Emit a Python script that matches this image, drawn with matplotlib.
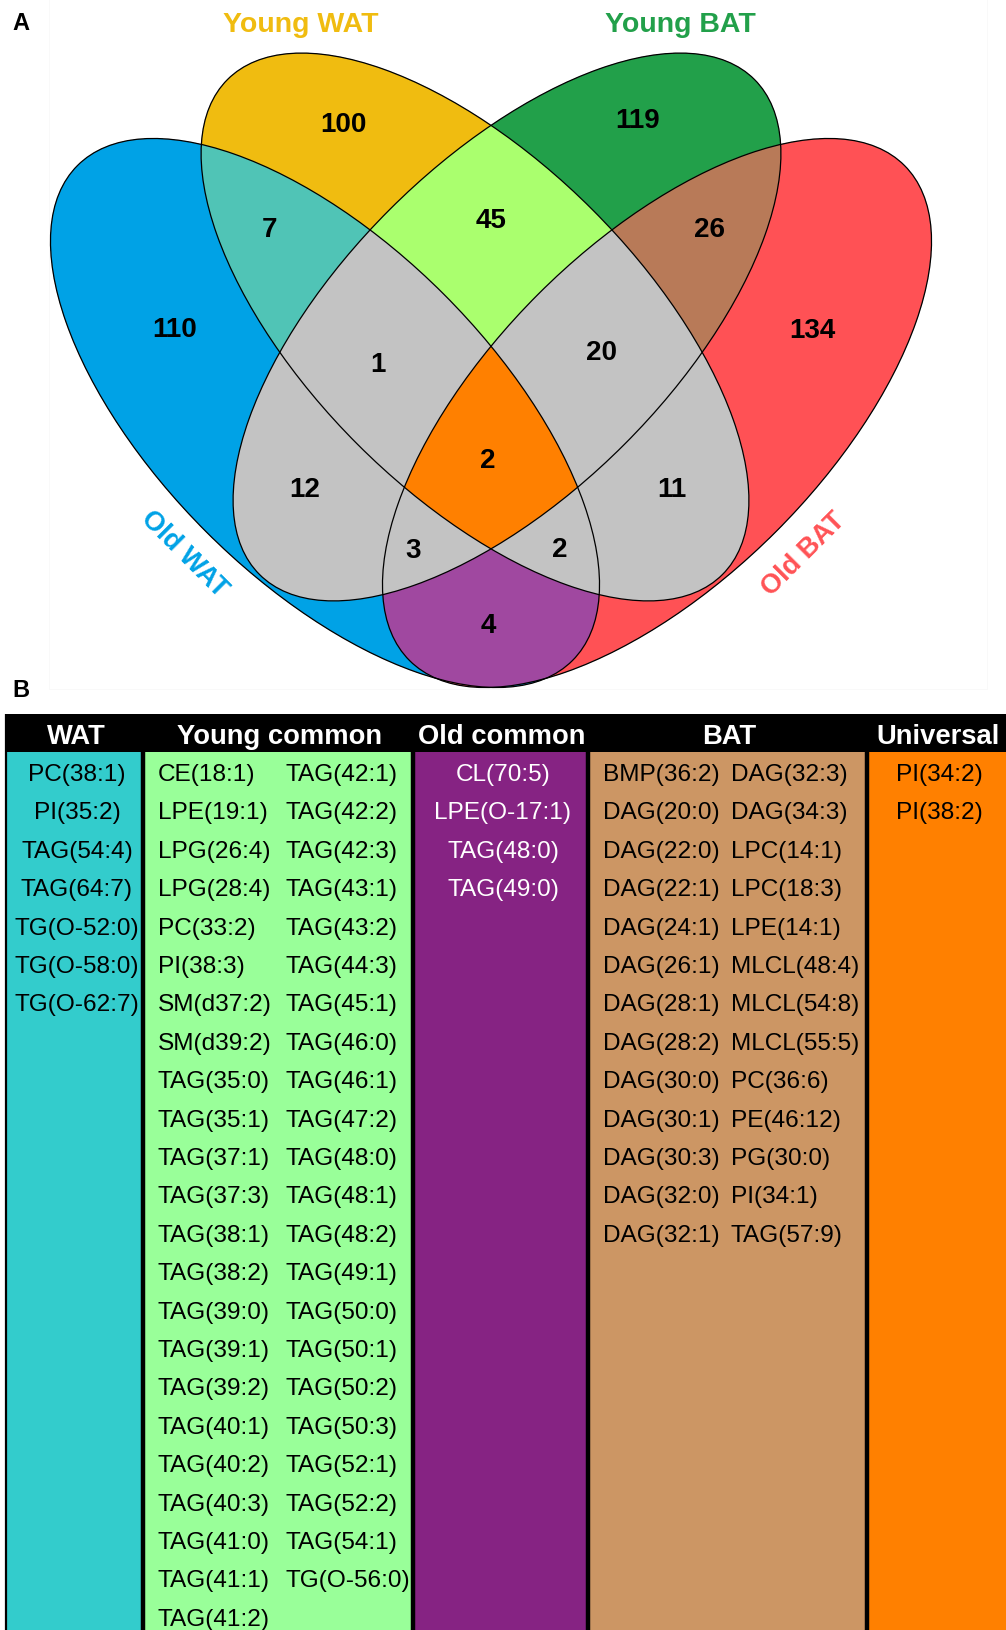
import numpy as np
import matplotlib.pyplot as plt
from matplotlib.patches import Ellipse, Rectangle
from matplotlib.colors import to_rgba

plt.rcParams['font.family'] = ['Liberation Sans', 'DejaVu Sans']

# panel A: four-set Venn of lipid species
set_names = ["Old WAT", "Young WAT", "Young BAT", "Old BAT"]
# membership code per region: Old WAT, Young WAT, Young BAT, Old BAT
region_codes = ["1000", "0100", "0010", "0001",
                "1100", "0110", "0011", "1001", "1010", "0101",
                "1110", "0111", "1011", "1101", "1111"]
region_counts = [110, 100, 119, 134, 7, 45, 26, 4, 12, 11, 1, 20, 3, 2, 2]

# panel B: lipid species in each group
wat_only = ["PC(38:1)", "PI(35:2)", "TAG(54:4)", "TAG(64:7)",
            "TG(O-52:0)", "TG(O-58:0)", "TG(O-62:7)"]
young_common = ["CE(18:1)", "LPE(19:1)", "LPG(26:4)", "LPG(28:4)", "PC(33:2)",
                "PI(38:3)", "SM(d37:2)", "SM(d39:2)", "TAG(35:0)", "TAG(35:1)",
                "TAG(37:1)", "TAG(37:3)", "TAG(38:1)", "TAG(38:2)", "TAG(39:0)",
                "TAG(39:1)", "TAG(39:2)", "TAG(40:1)", "TAG(40:2)", "TAG(40:3)",
                "TAG(41:0)", "TAG(41:1)", "TAG(41:2)",
                "TAG(42:1)", "TAG(42:2)", "TAG(42:3)", "TAG(43:1)", "TAG(43:2)",
                "TAG(44:3)", "TAG(45:1)", "TAG(46:0)", "TAG(46:1)", "TAG(47:2)",
                "TAG(48:0)", "TAG(48:1)", "TAG(48:2)", "TAG(49:1)", "TAG(50:0)",
                "TAG(50:1)", "TAG(50:2)", "TAG(50:3)", "TAG(52:1)", "TAG(52:2)",
                "TAG(54:1)", "TG(O-56:0)"]
old_common = ["CL(70:5)", "LPE(O-17:1)", "TAG(48:0)", "TAG(49:0)"]
bat_only = ["BMP(36:2)", "DAG(20:0)", "DAG(22:0)", "DAG(22:1)", "DAG(24:1)",
            "DAG(26:1)", "DAG(28:1)", "DAG(28:2)", "DAG(30:0)", "DAG(30:1)",
            "DAG(30:3)", "DAG(32:0)", "DAG(32:1)",
            "DAG(32:3)", "DAG(34:3)", "LPC(14:1)", "LPC(18:3)", "LPE(14:1)",
            "MLCL(48:4)", "MLCL(54:8)", "MLCL(55:5)", "PC(36:6)", "PE(46:12)",
            "PG(30:0)", "PI(34:1)", "TAG(57:9)"]
universal = ["PI(34:2)", "PI(38:2)"]
col_titles = ["WAT", "Young common", "Old common", "BAT", "Universal"]

W, H = 1006, 1631
fig = plt.figure(figsize=(W / 100, H / 100), dpi=100)
ax = fig.add_axes([0, 0, 1, 1])
ax.set_xlim(0, W)
ax.set_ylim(H, 0)
ax.axis('off')

# ---- Venn layout (pixel units) ----
ell_center = [(325, 414), (475, 328), (507, 328), (657, 414)]
ell_axes = [(350, 168), (350, 166), (350, 166), (350, 168)]
ell_angle = [45, 45, -45, -45]
set_colors = ['#00a2e6', '#f0bc10', '#22a04a', '#ff5255']
mix_colors = {'1100': '#50c4b6', '0110': '#aaff6e', '0011': '#b87a58',
              '1001': '#a048a0', '1111': '#ff8000'}
count_xy = [(175, 327), (343, 122), (638, 118), (812, 328),
            (270, 227), (491, 218), (710, 227), (488, 623), (305, 487), (672, 487),
            (378, 362), (602, 350), (413, 548), (560, 547), (488, 458)]
cat_xy = [(186, 552, -45), (301, 22, 0), (680, 22, 0), (802, 552, 45)]


def region_color(code):
    if code.count('1') == 1:
        return set_colors[code.index('1')]
    return mix_colors.get(code, '#c3c3c3')


gx = np.arange(0, W, 0.5) + 0.25
gy = np.arange(0, 700, 0.5) + 0.25
X, Y = np.meshgrid(gx, gy)
inside = []
for (cx, cy), (a, b), ang in zip(ell_center, ell_axes, ell_angle):
    t = np.deg2rad(ang)
    u = (X - cx) * np.cos(t) + (Y - cy) * np.sin(t)
    v = -(X - cx) * np.sin(t) + (Y - cy) * np.cos(t)
    inside.append((u / a) ** 2 + (v / b) ** 2 <= 1)

img = np.zeros(X.shape + (4,))
for code in region_codes:
    m = np.ones(X.shape, bool)
    for k, ch in enumerate(code):
        m &= inside[k] if ch == '1' else ~inside[k]
    img[m] = to_rgba(region_color(code))
ax.imshow(img, extent=(0, W, 700, 0), aspect='auto',
          interpolation='antialiased', zorder=1)

for (cx, cy), (a, b), ang in zip(ell_center, ell_axes, ell_angle):
    ax.add_patch(Ellipse((cx, cy), 2 * a, 2 * b, angle=ang, fill=False,
                         ec='black', lw=0.9, zorder=2))

for n, (x, y) in zip(region_counts, count_xy):
    ax.text(x, y, str(n), ha='center', va='center_baseline',
            fontsize=20, fontweight='bold', zorder=3)

for name, col, (x, y, rot) in zip(set_names, set_colors, cat_xy):
    ax.text(x, y, name, ha='center', va='center_baseline', rotation=rot,
            rotation_mode='anchor', fontsize=19.5 if rot else 20.5,
            fontweight='bold', color=col, zorder=3)

# faint border of the embedded Venn panel
ax.add_patch(Rectangle((49, -2), 938, 692, fill=False, ec='#f8f8f8', lw=0.6, zorder=0))

ax.text(21, 21, "A", ha='center', va='center_baseline', fontsize=17, fontweight='bold')
ax.text(21, 688, "B", ha='center', va='center_baseline', fontsize=17, fontweight='bold')

# ---- table of species ----
col_edges = [6, 143, 413, 588, 867, W]
col_lists = [wat_only, young_common, old_common, bat_only, universal]
col_fill = ['#33cccc', '#99ff99', '#862383', '#cc9664', '#ff8000']
col_text = ['black', 'black', 'white', 'black', 'black']
n_sub = [1, 2, 1, 2, 1]
head_top, head_bot = 715, 753
row0, row_step = 772.5, 38.4

ax.add_patch(Rectangle((col_edges[0], head_top), W - col_edges[0], head_bot - head_top,
                       fc='black', ec='none', zorder=1))
for i, (title, items) in enumerate(zip(col_titles, col_lists)):
    left, right = col_edges[i], col_edges[i + 1]
    ax.add_patch(Rectangle((left, head_bot), right - left, H - head_bot,
                           fc=col_fill[i], ec='none', zorder=1))
    ax.text((left + right) / 2 + 1.5, 734, title, ha='center', va='center_baseline',
            color='white', fontsize=19.7, fontweight='bold', zorder=3)
    if n_sub[i] == 1:
        for r, s in enumerate(items):
            ax.text((left + right) / 2 + 2.5, row0 + r * row_step, s, ha='center',
                    va='center_baseline', fontsize=17.6, color=col_text[i], zorder=3)
    else:
        per_col = int(np.ceil(len(items) / 2))
        for r, s in enumerate(items):
            x = left + (15 if r < per_col else 143)
            ax.text(x, row0 + (r % per_col) * row_step, s, ha='left',
                    va='center_baseline', fontsize=17.6, color=col_text[i], zorder=3)

for k, x in enumerate(col_edges[:-1]):
    ax.plot([x, x], [head_top, H], color='black', lw=1.6 if k == 0 else 3.2,
            solid_capstyle='butt', zorder=2)

fig.savefig('out.png', dpi=100)
